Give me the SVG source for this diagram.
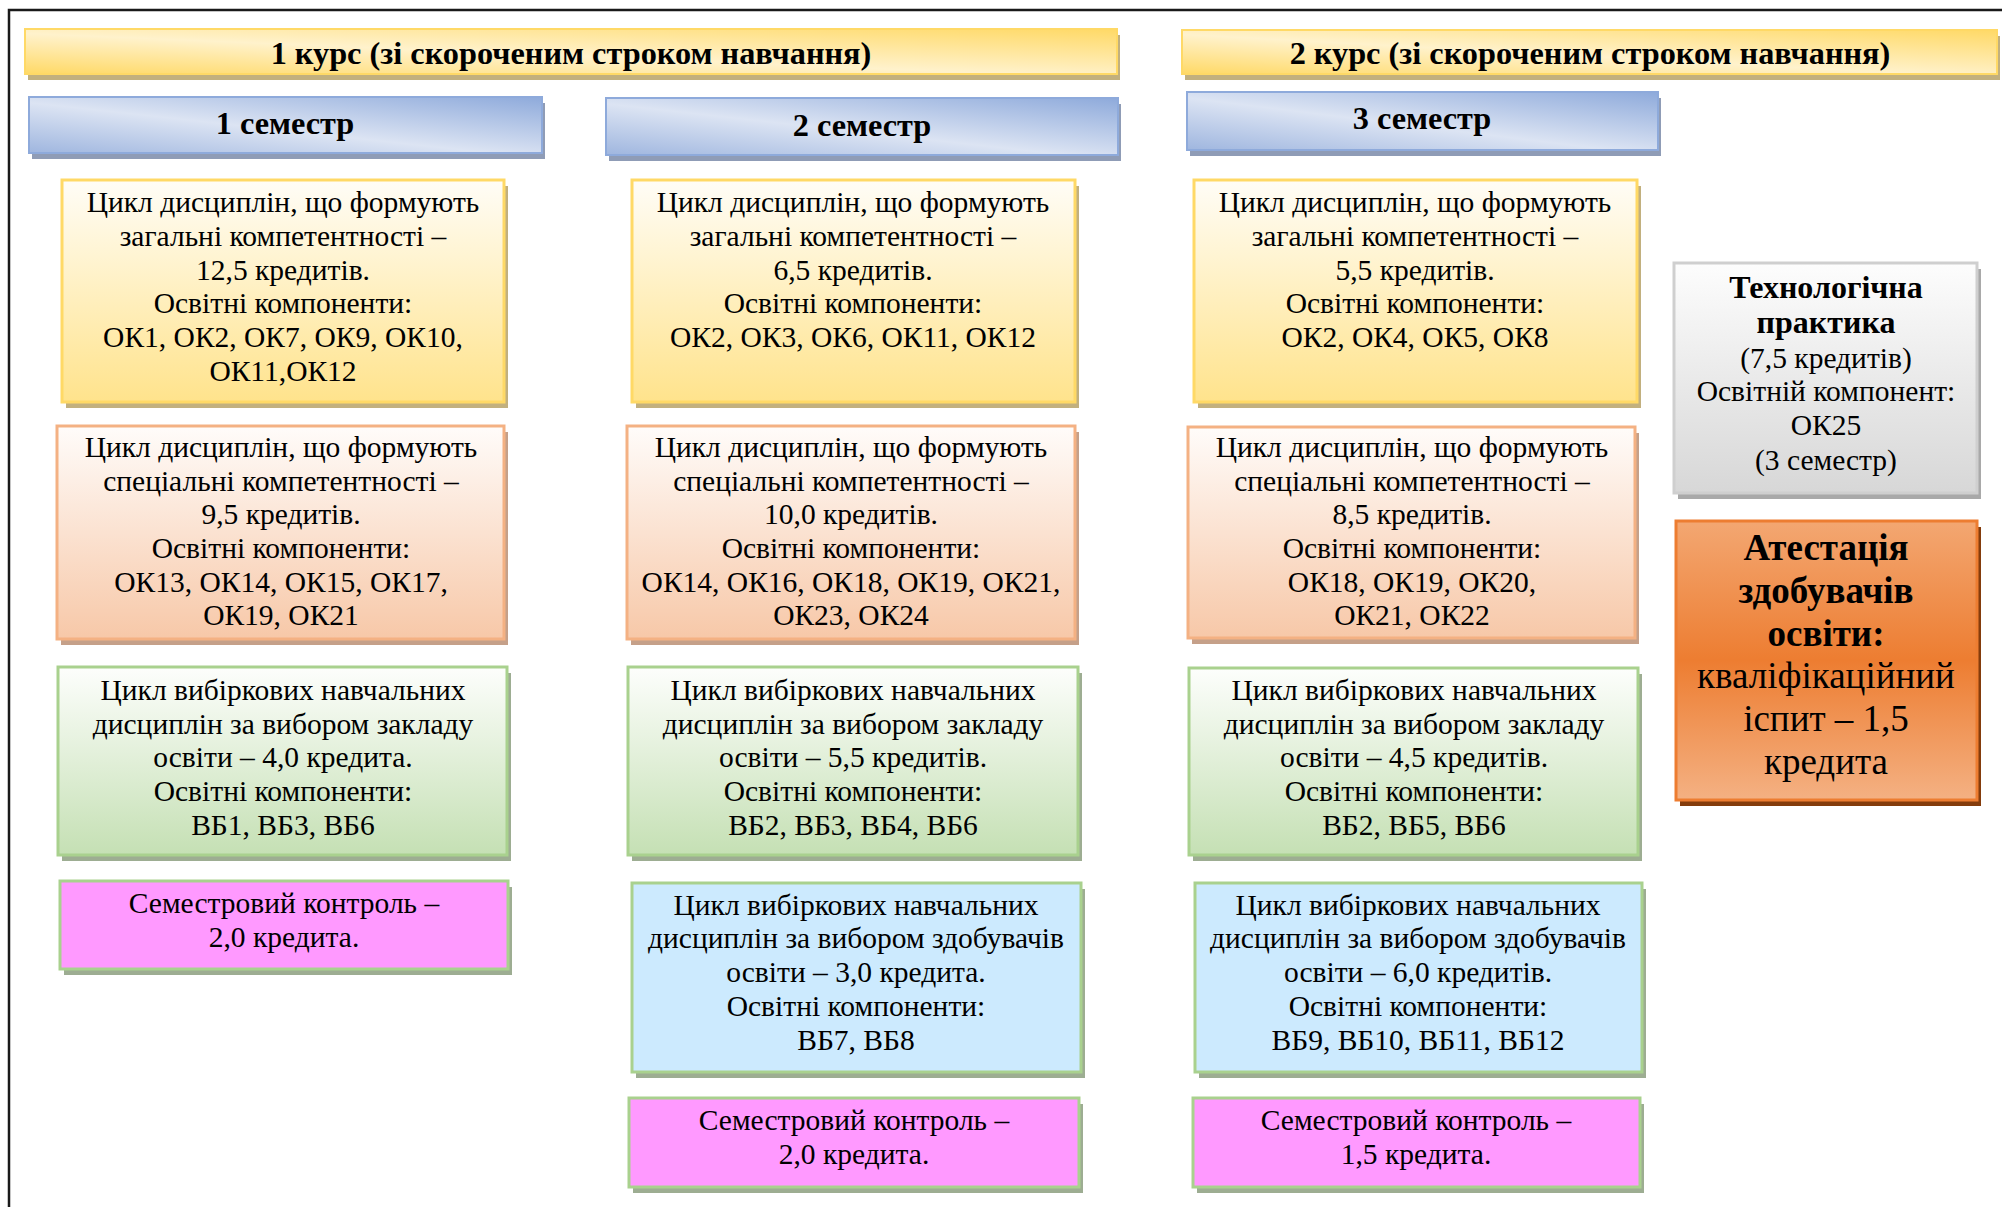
<svg xmlns="http://www.w3.org/2000/svg" width="2002" height="1207" viewBox="0 0 2002 1207" font-family="Liberation Serif, Times New Roman, serif">
<defs>
<linearGradient id="gTitle" x1="0" y1="1" x2="1" y2="0">
<stop offset="0" stop-color="#ffd966"/><stop offset="0.45" stop-color="#fff2cc"/><stop offset="1" stop-color="#ffd966"/>
</linearGradient>
<linearGradient id="gSem" x1="0" y1="1" x2="1" y2="0">
<stop offset="0" stop-color="#9fb6df"/><stop offset="0.45" stop-color="#dce4f3"/><stop offset="1" stop-color="#8eaadb"/>
</linearGradient>
<linearGradient id="gY" x1="0" y1="0" x2="0" y2="1">
<stop offset="0" stop-color="#fffdf7"/><stop offset="1" stop-color="#ffe38c"/>
</linearGradient>
<linearGradient id="gO" x1="0" y1="0" x2="0" y2="1">
<stop offset="0" stop-color="#fffcfa"/><stop offset="1" stop-color="#f7c8a8"/>
</linearGradient>
<linearGradient id="gG" x1="0" y1="0" x2="0" y2="1">
<stop offset="0" stop-color="#fdfefc"/><stop offset="1" stop-color="#c5e0b4"/>
</linearGradient>
<linearGradient id="gGr" x1="0" y1="0" x2="0" y2="1">
<stop offset="0" stop-color="#fdfdfd"/><stop offset="1" stop-color="#d7d7d7"/>
</linearGradient>
<linearGradient id="gAtt" x1="0" y1="0" x2="0" y2="1">
<stop offset="0" stop-color="#f3a772"/><stop offset="0.5" stop-color="#ed7d31"/><stop offset="1" stop-color="#f4b183"/>
</linearGradient>
<style>
text{fill:#000;text-anchor:middle}
.t{font-size:29.5px}
.hb{font-size:32.3px;font-weight:bold}
.tb{font-size:32px;font-weight:bold}
.ab{font-size:37px;font-weight:bold}
.ar{font-size:37px}
.shY{fill:#c2b07e}
.shO{fill:#c5a089}
.shG{fill:#9dad92}
.shS{fill:#8f9cb6}
.shGr{fill:#a9a9a9}
.shA{fill:#843c0c}
.title{fill:url(#gTitle);stroke:#ffd966;stroke-width:2}
.sem{fill:url(#gSem);stroke:#8eaadb;stroke-width:2}
.bY{fill:url(#gY);stroke:#ffd966;stroke-width:3}
.bO{fill:url(#gO);stroke:#f4b183;stroke-width:3}
.bG{fill:url(#gG);stroke:#a9d18e;stroke-width:3}
.bB{fill:#cceafe;stroke:#a9d18e;stroke-width:3}
.bP{fill:#ff99ff;stroke:#a9d18e;stroke-width:3}
.bGr{fill:url(#gGr);stroke:#cfcfcf;stroke-width:3}
.bA{fill:url(#gAtt);stroke:#ed7d31;stroke-width:3}
</style>
</defs>
<rect x="0" y="0" width="2002" height="1207" fill="#ffffff"/>
<path d="M9,1207 V10 H2002" fill="none" stroke="#1a1a1a" stroke-width="2.5"/>

<g id="course1">
<rect class="shY" x="28" y="35" width="1092" height="45"/>
<rect class="title" x="25" y="29" width="1092" height="45"/>
<text class="hb" x="571" y="64">1 курс (зі скороченим строком навчання)</text>
</g>
<g id="course2">
<rect class="shY" x="1185" y="36" width="815" height="44"/>
<rect class="title" x="1182" y="30" width="815" height="44"/>
<text class="hb" x="1590" y="64">2 курс (зі скороченим строком навчання)</text>
</g>
<g id="sem1">
<rect class="shS" x="32" y="103" width="513" height="56"/>
<rect class="sem" x="29" y="97" width="513" height="56"/>
<text class="hb" x="285" y="134">1 семестр</text>
</g>
<g id="sem2">
<rect class="shS" x="609" y="104" width="512" height="57"/>
<rect class="sem" x="606" y="98" width="512" height="57"/>
<text class="hb" x="862" y="136">2 семестр</text>
</g>
<g id="sem3">
<rect class="shS" x="1190" y="98" width="471" height="58"/>
<rect class="sem" x="1187" y="92" width="471" height="58"/>
<text class="hb" x="1422" y="129">3 семестр</text>
</g>

<g id="c1-general">
<rect class="shY" x="66" y="186" width="442" height="222"/>
<rect class="bY" x="62" y="180" width="442" height="222"/>
<text class="t" x="283" y="212">Цикл дисциплін, що формують</text>
<text class="t" x="283" y="246">загальні компетентності –</text>
<text class="t" x="283" y="280">12,5 кредитів.</text>
<text class="t" x="283" y="313">Освітні компоненти:</text>
<text class="t" x="283" y="347">ОК1, ОК2, ОК7, ОК9, ОК10,</text>
<text class="t" x="283" y="381">ОК11,ОК12</text>
</g>
<g id="c1-special">
<rect class="shO" x="61" y="432" width="447" height="213"/>
<rect class="bO" x="57" y="426" width="447" height="213"/>
<text class="t" x="281" y="457">Цикл дисциплін, що формують</text>
<text class="t" x="281" y="491">спеціальні компетентності –</text>
<text class="t" x="281" y="524">9,5 кредитів.</text>
<text class="t" x="281" y="558">Освітні компоненти:</text>
<text class="t" x="281" y="592">ОК13, ОК14, ОК15, ОК17,</text>
<text class="t" x="281" y="625">ОК19, ОК21</text>
</g>
<g id="c1-elective">
<rect class="shG" x="62" y="673" width="449" height="188"/>
<rect class="bG" x="58" y="667" width="449" height="188"/>
<text class="t" x="283" y="700">Цикл вибіркових навчальних</text>
<text class="t" x="283" y="734">дисциплін за вибором закладу</text>
<text class="t" x="283" y="767">освіти – 4,0 кредита.</text>
<text class="t" x="283" y="801">Освітні компоненти:</text>
<text class="t" x="283" y="835">ВБ1, ВБ3, ВБ6</text>
</g>
<g id="c1-control">
<rect class="shG" x="64" y="887" width="448" height="88"/>
<rect class="bP" x="60" y="881" width="448" height="88"/>
<text class="t" x="284" y="913">Семестровий контроль –</text>
<text class="t" x="284" y="947">2,0 кредита.</text>
</g>

<g id="c2-general">
<rect class="shY" x="636" y="186" width="443" height="222"/>
<rect class="bY" x="632" y="180" width="443" height="222"/>
<text class="t" x="853" y="212">Цикл дисциплін, що формують</text>
<text class="t" x="853" y="246">загальні компетентності –</text>
<text class="t" x="853" y="280">6,5 кредитів.</text>
<text class="t" x="853" y="313">Освітні компоненти:</text>
<text class="t" x="853" y="347">ОК2, ОК3, ОК6, ОК11, ОК12</text>
</g>
<g id="c2-special">
<rect class="shO" x="631" y="432" width="448" height="213"/>
<rect class="bO" x="627" y="426" width="448" height="213"/>
<text class="t" x="851" y="457">Цикл дисциплін, що формують</text>
<text class="t" x="851" y="491">спеціальні компетентності –</text>
<text class="t" x="851" y="524">10,0 кредитів.</text>
<text class="t" x="851" y="558">Освітні компоненти:</text>
<text class="t" x="851" y="592">ОК14, ОК16, ОК18, ОК19, ОК21,</text>
<text class="t" x="851" y="625">ОК23, ОК24</text>
</g>
<g id="c2-elective">
<rect class="shG" x="632" y="673" width="450" height="188"/>
<rect class="bG" x="628" y="667" width="450" height="188"/>
<text class="t" x="853" y="700">Цикл вибіркових навчальних</text>
<text class="t" x="853" y="734">дисциплін за вибором закладу</text>
<text class="t" x="853" y="767">освіти – 5,5 кредитів.</text>
<text class="t" x="853" y="801">Освітні компоненти:</text>
<text class="t" x="853" y="835">ВБ2, ВБ3, ВБ4, ВБ6</text>
</g>
<g id="c2-student">
<rect class="shG" x="636" y="889" width="449" height="189"/>
<rect class="bB" x="632" y="883" width="449" height="189"/>
<text class="t" x="856" y="915">Цикл вибіркових навчальних</text>
<text class="t" x="856" y="948">дисциплін за вибором здобувачів</text>
<text class="t" x="856" y="982">освіти – 3,0 кредита.</text>
<text class="t" x="856" y="1016">Освітні компоненти:</text>
<text class="t" x="856" y="1050">ВБ7, ВБ8</text>
</g>
<g id="c2-control">
<rect class="shG" x="633" y="1104" width="450" height="89"/>
<rect class="bP" x="629" y="1098" width="450" height="89"/>
<text class="t" x="854" y="1130">Семестровий контроль –</text>
<text class="t" x="854" y="1164">2,0 кредита.</text>
</g>

<g id="c3-general">
<rect class="shY" x="1198" y="186" width="443" height="222"/>
<rect class="bY" x="1194" y="180" width="443" height="222"/>
<text class="t" x="1415" y="212">Цикл дисциплін, що формують</text>
<text class="t" x="1415" y="246">загальні компетентності –</text>
<text class="t" x="1415" y="280">5,5 кредитів.</text>
<text class="t" x="1415" y="313">Освітні компоненти:</text>
<text class="t" x="1415" y="347">ОК2, ОК4, ОК5, ОК8</text>
</g>
<g id="c3-special">
<rect class="shO" x="1192" y="433" width="447" height="211"/>
<rect class="bO" x="1188" y="427" width="447" height="211"/>
<text class="t" x="1412" y="457">Цикл дисциплін, що формують</text>
<text class="t" x="1412" y="491">спеціальні компетентності –</text>
<text class="t" x="1412" y="524">8,5 кредитів.</text>
<text class="t" x="1412" y="558">Освітні компоненти:</text>
<text class="t" x="1412" y="592">ОК18, ОК19, ОК20,</text>
<text class="t" x="1412" y="625">ОК21, ОК22</text>
</g>
<g id="c3-elective">
<rect class="shG" x="1193" y="674" width="449" height="187"/>
<rect class="bG" x="1189" y="668" width="449" height="187"/>
<text class="t" x="1414" y="700">Цикл вибіркових навчальних</text>
<text class="t" x="1414" y="734">дисциплін за вибором закладу</text>
<text class="t" x="1414" y="767">освіти – 4,5 кредитів.</text>
<text class="t" x="1414" y="801">Освітні компоненти:</text>
<text class="t" x="1414" y="835">ВБ2, ВБ5, ВБ6</text>
</g>
<g id="c3-student">
<rect class="shG" x="1199" y="889" width="447" height="189"/>
<rect class="bB" x="1195" y="883" width="447" height="189"/>
<text class="t" x="1418" y="915">Цикл вибіркових навчальних</text>
<text class="t" x="1418" y="948">дисциплін за вибором здобувачів</text>
<text class="t" x="1418" y="982">освіти – 6,0 кредитів.</text>
<text class="t" x="1418" y="1016">Освітні компоненти:</text>
<text class="t" x="1418" y="1050">ВБ9, ВБ10, ВБ11, ВБ12</text>
</g>
<g id="c3-control">
<rect class="shG" x="1197" y="1104" width="447" height="89"/>
<rect class="bP" x="1193" y="1098" width="447" height="89"/>
<text class="t" x="1416" y="1130">Семестровий контроль –</text>
<text class="t" x="1416" y="1164">1,5 кредита.</text>
</g>

<g id="practice">
<rect class="shGr" x="1678" y="269" width="303" height="230"/>
<rect class="bGr" x="1674" y="263" width="303" height="230"/>
<text class="tb" x="1826" y="298">Технологічна</text>
<text class="tb" x="1826" y="333">практика</text>
<text class="t" x="1826" y="368">(7,5 кредитів)</text>
<text class="t" x="1826" y="401">Освітній компонент:</text>
<text class="t" x="1826" y="435">ОК25</text>
<text class="t" x="1826" y="470">(3 семестр)</text>
</g>
<g id="attestation">
<rect class="shA" x="1680" y="527" width="301" height="279"/>
<rect class="bA" x="1676" y="521" width="301" height="279"/>
<text class="ab" x="1826" y="560">Атестація</text>
<text class="ab" x="1826" y="603">здобувачів</text>
<text class="ab" x="1826" y="646">освіти:</text>
<text class="ar" x="1826" y="688">кваліфікаційний</text>
<text class="ar" x="1826" y="731">іспит – 1,5</text>
<text class="ar" x="1826" y="774">кредита</text>
</g>

<g id="connectors"></g>
</svg>
